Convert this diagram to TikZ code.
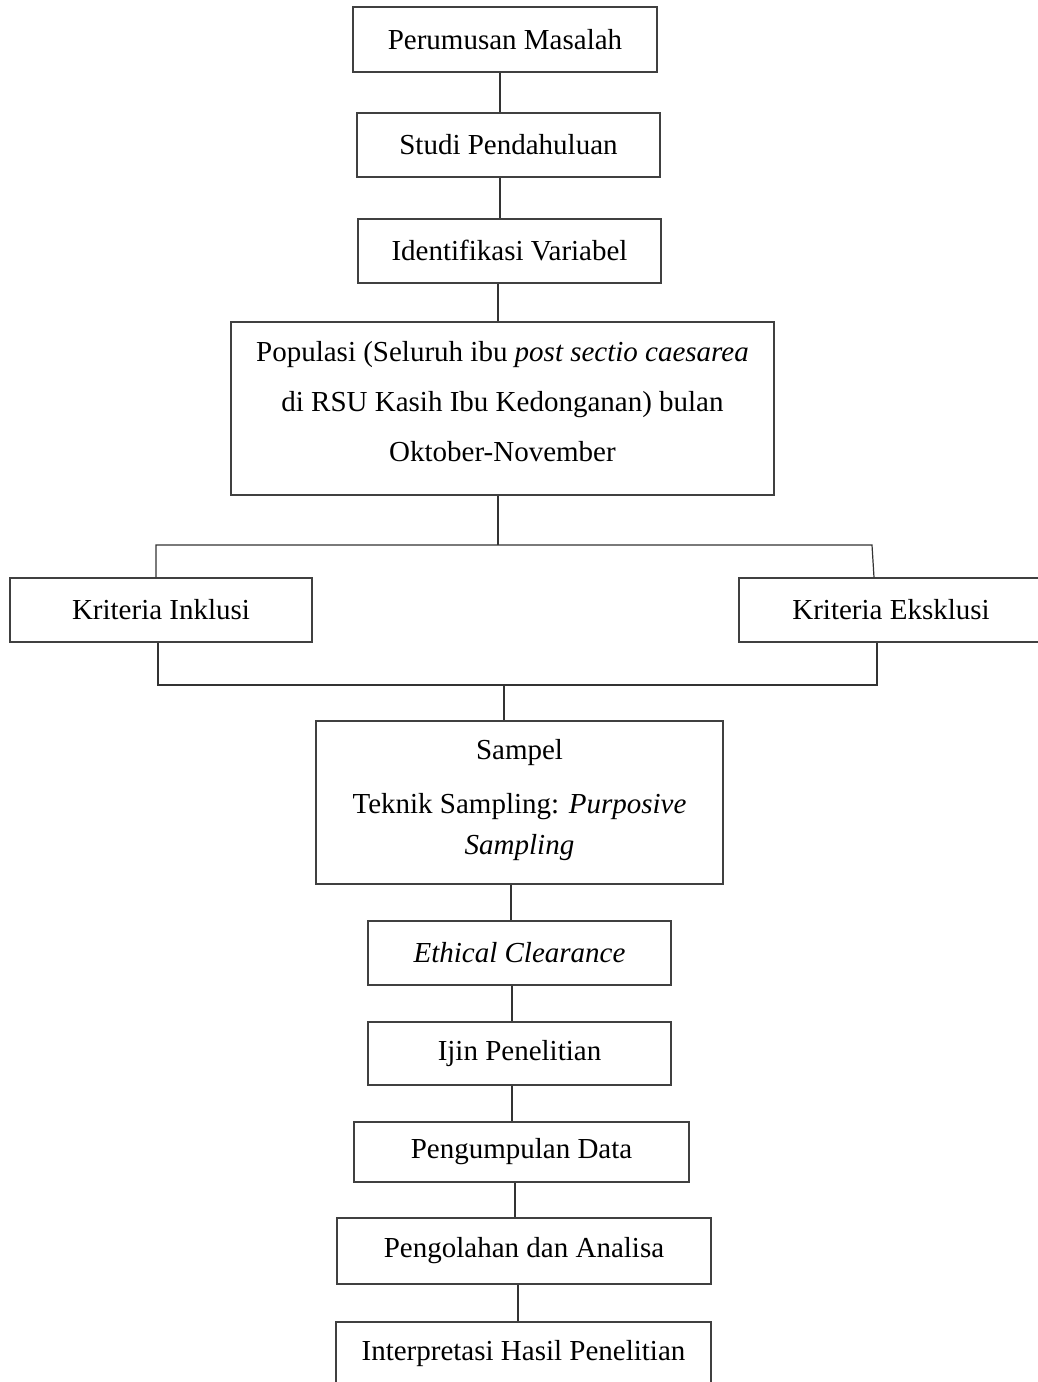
\documentclass[tikz,border=0pt]{standalone}
\usepackage{fontspec}
\setmainfont{Liberation Serif}
\begin{document}
\begin{tikzpicture}[x=1pt,y=-1pt,
  box/.style={draw=black!75, line width=1.3pt, text=black, inner sep=0pt, align=center,
    font=\fontsize{29}{50}\selectfont},
  link/.style={draw=black!80, line width=1.2pt}]
\clip (0,0) rectangle (1038,1382);
\fill[white] (0,0) rectangle (1038,1382);

\node[box, minimum width=304pt, minimum height=65pt] (b1) at (505,39.5) {Perumusan Masalah};
\node[box, minimum width=303pt, minimum height=64pt] (b2) at (508.5,145) {Studi Pendahuluan};
\node[box, minimum width=303pt, minimum height=64pt] (b3) at (509.5,251) {Identifikasi Variabel};
\node[box, minimum width=543pt, minimum height=173pt] (b4) at (502.5,408.5)
  {Populasi (Seluruh ibu \textit{post sectio caesarea}\\di RSU Kasih Ibu Kedonganan) bulan\\Oktober-November\\[-35pt]};
\node[box, minimum width=302pt, minimum height=64pt] (b5) at (161,610) {Kriteria Inklusi};
\node[box, minimum width=304pt, minimum height=64pt] (b6) at (891,610) {Kriteria Eksklusi};
\node[box, minimum width=407pt, minimum height=163pt, font=\fontsize{29}{41}\selectfont] (b7) at (519.5,802.5)
  {Sampel\\[13pt]Teknik Sampling: \textit{Purposive}\\\textit{Sampling}\\[-30pt]};
\node[box, minimum width=303pt, minimum height=64pt] (b8) at (519.5,953) {\textit{Ethical Clearance}};
\node[box, minimum width=303pt, minimum height=63pt] (b9) at (519.5,1053.5) {Ijin Penelitian};
\node[box, minimum width=335pt, minimum height=60pt] (b10) at (521.5,1152) {Pengumpulan Data};
\node[box, minimum width=374pt, minimum height=66pt] (b11) at (524,1251) {Pengolahan dan Analisa};
\node[box, minimum width=375pt, minimum height=64pt] (b12) at (523.5,1354) {Interpretasi Hasil Penelitian};

\coordinate (ja) at (498,545);
\coordinate (jl) at (156,545);
\coordinate (jr) at (872,545);
\coordinate (kl) at (158,685);
\coordinate (kr) at (877,685);
\coordinate (kb) at (504,685);

\draw[link] ([xshift=-5pt]b1.south) -- ([xshift=-5pt]b1.south |- b2.north);
\draw[link] ([xshift=-8.5pt]b2.south) -- ([xshift=-8.5pt]b2.south |- b3.north);
\draw[link] ([xshift=-11.5pt]b3.south) -- ([xshift=-11.5pt]b3.south |- b4.north);
\draw[link] ([xshift=-4.5pt]b4.south) -- (ja);
\draw[link] ([xshift=-5pt]b5.north) -- (jl) -- (jr) -- ([xshift=-17pt]b6.north);
\draw[link] ([xshift=-3pt]b5.south) -- (kl) -- (kr) -- ([xshift=-14pt]b6.south);
\draw[link] (kb) -- ([xshift=-15.5pt]b7.north);
\draw[link] ([xshift=-8.5pt]b7.south) -- ([xshift=-8.5pt]b7.south |- b8.north);
\draw[link] ([xshift=-7.5pt]b8.south) -- ([xshift=-7.5pt]b8.south |- b9.north);
\draw[link] ([xshift=-7.5pt]b9.south) -- ([xshift=-7.5pt]b9.south |- b10.north);
\draw[link] ([xshift=-6.5pt]b10.south) -- ([xshift=-6.5pt]b10.south |- b11.north);
\draw[link] ([xshift=-6pt]b11.south) -- ([xshift=-6pt]b11.south |- b12.north);
\end{tikzpicture}
\end{document}
